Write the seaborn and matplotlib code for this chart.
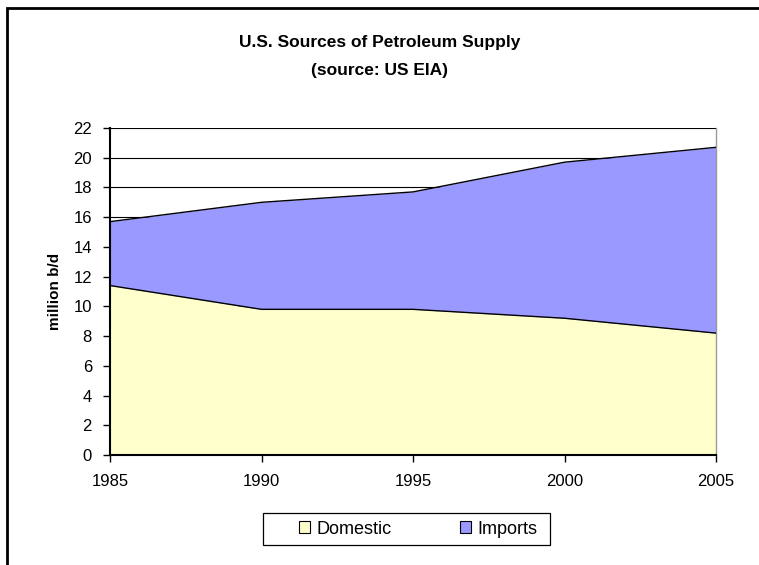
import matplotlib
matplotlib.use("Agg")
import matplotlib.pyplot as plt
import seaborn as sns
import pandas as pd
from matplotlib.patches import Rectangle, Patch

years = [1985, 1990, 1995, 2000, 2005]
domestic = [11.4, 9.8, 9.8, 9.2, 8.2]
imports = [4.3, 7.2, 7.9, 10.5, 12.5]
series_names = ["Domestic", "Imports"]
y_ticks = list(range(0, 23, 2))

sns.set_style("white")
plt.rcParams["font.family"] = ["Liberation Sans", "DejaVu Sans"]
plt.rcParams["text.color"] = "black"
plt.rcParams["axes.labelcolor"] = "black"
plt.rcParams["xtick.color"] = "black"
plt.rcParams["ytick.color"] = "black"

total = [d + i for d, i in zip(domestic, imports)]
df = pd.DataFrame({"year": years, "Domestic": domestic, "Total": total})

fig = plt.figure(figsize=(7.59, 5.65), dpi=100)
ax = fig.add_axes([110 / 759, 1 - 455 / 565, (716 - 110) / 759, (455 - 128) / 565])

dom_color = "#ffffcc"
imp_color = "#9999ff"

ax.fill_between(df["year"], 0, df["Domestic"], color=dom_color, zorder=2, linewidth=0)
ax.fill_between(df["year"], df["Domestic"], df["Total"], color=imp_color, zorder=2, linewidth=0)
sns.lineplot(data=df, x="year", y="Domestic", color="black", linewidth=1.0, ax=ax, zorder=3)
sns.lineplot(data=df, x="year", y="Total", color="black", linewidth=1.0, ax=ax, zorder=3)

ax.set_xlim(1985, 2005)
ax.set_ylim(0, 22)
ax.set_xticks(years)
ax.set_yticks(y_ticks)
ax.yaxis.grid(True, color="black", linewidth=0.8)
ax.set_axisbelow(True)
ax.xaxis.grid(False)

ax.spines["top"].set_visible(False)
ax.spines["right"].set_color("#999999")
ax.spines["right"].set_linewidth(1.0)
ax.spines["left"].set_color("black")
ax.spines["left"].set_linewidth(1.5)
ax.spines["bottom"].set_color("black")
ax.spines["bottom"].set_linewidth(1.5)

ax.tick_params(axis="both", direction="out", length=5, width=1, colors="black",
               labelsize=12, left=True, bottom=True)
ax.tick_params(axis="x", pad=9)
ax.tick_params(axis="y", pad=8)
ax.set_xlabel("")
ax.set_ylabel("million b/d", fontsize=11, fontweight="bold", labelpad=8)

fig.text(0.5, 1 - 43 / 565, "U.S. Sources of Petroleum Supply", ha="center", va="center",
         fontsize=12.5, fontweight="bold")
fig.text(0.5, 1 - 71 / 565, "(source: US EIA)", ha="center", va="center",
         fontsize=12.5, fontweight="bold")

# legend frame (Excel style box)
fig.patches.append(Rectangle((263 / 759, 1 - 545 / 565), (550 - 263) / 759, 32 / 565,
                             transform=fig.transFigure, fill=False, edgecolor="black",
                             linewidth=0.9))
handles = [Patch(facecolor=dom_color, edgecolor="black", linewidth=0.8),
           Patch(facecolor=imp_color, edgecolor="black", linewidth=0.8)]
leg = fig.legend(handles, series_names, loc="center left",
                 bbox_to_anchor=(299 / 759, 1 - 529 / 565),
                 ncol=2, frameon=False, fontsize=13, handlelength=0.6,
                 handleheight=0.6, handletextpad=0.35, columnspacing=3.8, borderpad=0,
                 borderaxespad=0)

fig.patches.append(Rectangle((7 / 759, -0.1), 1.2, 1.1 - 8 / 565, transform=fig.transFigure,
                             fill=False, edgecolor="black", linewidth=2.0))

fig.savefig("out.png", dpi=100)
